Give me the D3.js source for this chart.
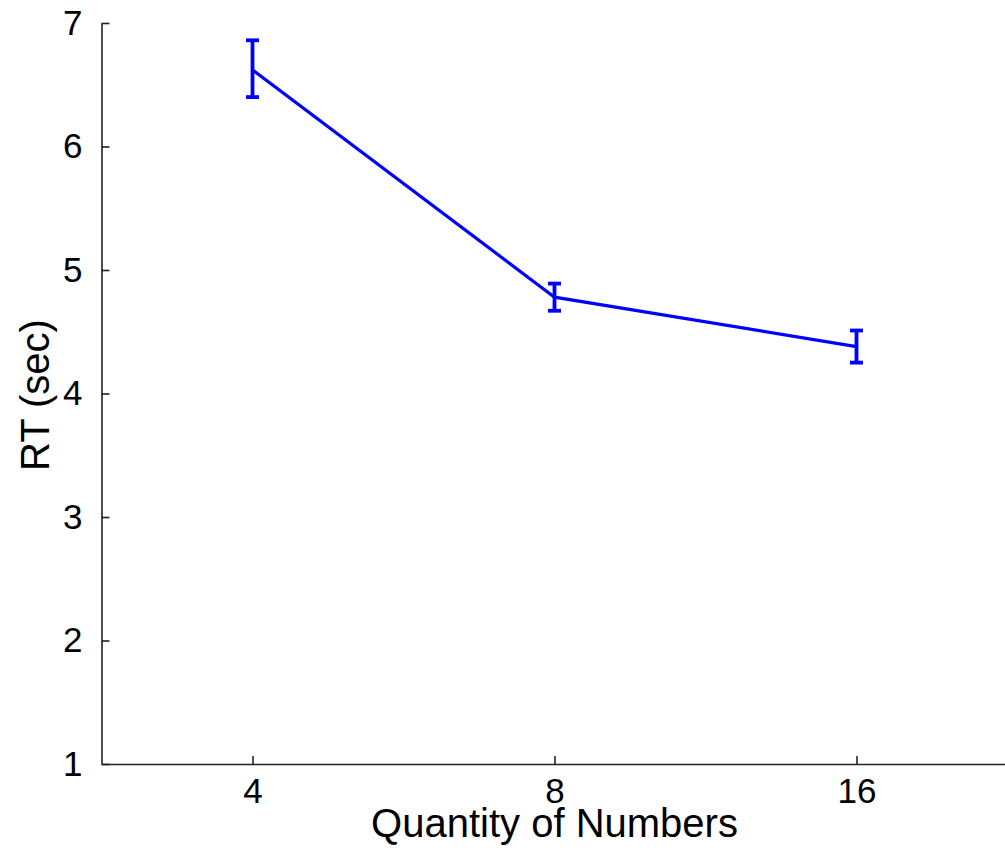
<!DOCTYPE html>
<html>
<head>
<meta charset="utf-8">
<script src="https://cdn.jsdelivr.net/npm/d3@7"></script>
<style>
  html, body { margin: 0; padding: 0; background: #fff; }
  svg { display: block; }
  text { font-family: "Liberation Sans", Arial, sans-serif; fill: #000; }
</style>
</head>
<body>
<svg id="chart" width="1005" height="859"></svg>
<script>
const categories = ["4", "8", "16"];
const meanRT = [6.62, 4.78, 4.38];
const upperRT = [6.86, 4.89, 4.51];
const lowerRT = [6.40, 4.67, 4.25];
const yTicks = [1, 2, 3, 4, 5, 6, 7];
const xLabel = "Quantity of Numbers";
const yLabel = "RT (sec)";

(function () {
const svg = d3.select("#chart");
const mLeft = 101.5, mRight = 1007.5, mTop = 23, mBottom = 764;

const x = d3.scaleLinear().domain([0.5, categories.length + 0.5]).range([mLeft, mRight]);
const y = d3.scaleLinear().domain([1, 7]).range([mBottom, mTop]);

const data = categories.map((c, i) => ({ c, i: i + 1, m: meanRT[i], hi: upperRT[i], lo: lowerRT[i] }));

// Y axis
const yAxis = svg.append("g")
  .attr("transform", `translate(${mLeft},0)`)
  .call(d3.axisLeft(y).tickValues(yTicks).tickFormat(d3.format("d")).tickSizeInner(-8).tickSizeOuter(0).tickPadding(19));
// X axis
const xAxis = svg.append("g")
  .attr("transform", `translate(0,${mBottom})`)
  .call(d3.axisBottom(x).tickValues(data.map(d => d.i)).tickFormat((d, k) => categories[k]).tickSizeInner(-8).tickSizeOuter(0).tickPadding(14));

[yAxis, xAxis].forEach(g => {
  g.select(".domain").attr("stroke", "#222").attr("stroke-width", 1.6);
  g.selectAll(".tick line").attr("stroke", "#222").attr("stroke-width", 1.6);
  g.selectAll(".tick text").attr("font-size", 35).attr("font-family", "Liberation Sans, Arial, sans-serif").attr("fill", "#000");
});
xAxis.selectAll(".tick text").attr("dy", "0.71em");

// line
const line = d3.line().x(d => x(d.i)).y(d => y(d.m));
svg.append("path").datum(data)
  .attr("d", line)
  .attr("fill", "none")
  .attr("stroke", "#0000ff")
  .attr("stroke-width", 3.2);

// error bars
const eb = svg.append("g").attr("stroke", "#0000ff").attr("stroke-width", 3.8);
data.forEach(d => {
  eb.append("line").attr("x1", x(d.i)).attr("x2", x(d.i)).attr("y1", y(d.hi)).attr("y2", y(d.lo));
  eb.append("line").attr("x1", x(d.i) - 6.5).attr("x2", x(d.i) + 6.5).attr("y1", y(d.hi)).attr("y2", y(d.hi));
  eb.append("line").attr("x1", x(d.i) - 6.5).attr("x2", x(d.i) + 6.5).attr("y1", y(d.lo)).attr("y2", y(d.lo));
});

// axis labels
svg.append("text")
  .attr("x", (x(1) + x(3)) / 2).attr("y", 837)
  .attr("text-anchor", "middle").attr("font-size", 40)
  .text(xLabel);
svg.append("text")
  .attr("transform", `translate(49,${(318 + 472) / 2}) rotate(-90)`)
  .attr("text-anchor", "middle").attr("font-size", 40)
  .text(yLabel);
})();
</script>
</body>
</html>
